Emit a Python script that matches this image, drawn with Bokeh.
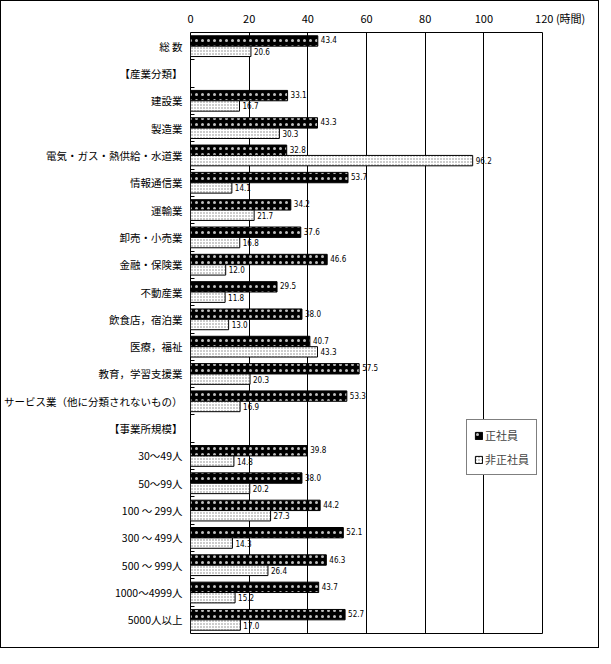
from bokeh.plotting import figure
from bokeh.layouts import column
from bokeh.models import ColumnDataSource, Range1d, FixedTicker, Legend, LegendItem
from bokeh.core.properties import value
from bokeh.embed import file_html
from bokeh.resources import INLINE

categories = ["総 数", "【産業分類】", "建設業", "製造業", "電気・ガス・熱供給・水道業",
              "情報通信業", "運輸業", "卸売・小売業", "金融・保険業", "不動産業",
              "飲食店，宿泊業", "医療，福祉", "教育，学習支援業",
              "サービス業（他に分類されないもの）", "【事業所規模】",
              "30～49人", "50～99人", "100 ～ 299人", "300 ～ 499人", "500 ～ 999人",
              "1000～4999人", "5000人以上"]
seishain = [43.4, None, 33.1, 43.3, 32.8, 53.7, 34.2, 37.6, 46.6, 29.5, 38.0, 40.7, 57.5, 53.3,
            None, 39.8, 38.0, 44.2, 52.1, 46.3, 43.7, 52.7]
hiseishain = [20.6, None, 16.7, 30.3, 96.2, 14.1, 21.7, 16.8, 12.0, 11.8, 13.0, 43.3, 20.3, 16.9,
              None, 14.8, 20.2, 27.3, 14.3, 26.4, 15.2, 17.0]
x_ticks = [0, 20, 40, 60, 80, 100, 120]
x_tick_labels = ["0", "20", "40", "60", "80", "100", "\u3000\u3000\u3000 120 (時間)"]
series_names = ["正社員", "非正社員"]

JP = "Noto Sans CJK JP"
NUM = "DejaVu Sans Condensed"

W, H = 597, 646
BL, BT, BR, BB = 186, 31, 56, 14
p = figure(width=W, height=H, output_backend="svg", toolbar_location=None,
           x_range=Range1d(0, 120), y_range=Range1d(len(categories) - 0.5, -0.5),
           x_axis_location="above",
           min_border_left=BL, min_border_top=BT, min_border_right=BR, min_border_bottom=BB)
p.outline_line_color = "black"
p.outline_line_alpha = 1
p.outline_line_width = 1

# x axis (top)
p.xaxis.ticker = FixedTicker(ticks=x_ticks)
p.xaxis.major_label_overrides = {t: l for t, l in zip(x_ticks, x_tick_labels)}
p.xaxis.axis_line_color = None
p.xaxis.major_tick_line_color = None
p.xaxis.major_tick_out = 0
p.xaxis.major_tick_in = 0
p.xaxis.minor_tick_line_color = None
p.xaxis.major_label_text_font = JP
p.xaxis.major_label_text_font_size = "11px"
p.xaxis.major_label_text_color = "black"
p.xaxis.major_label_standoff = 7

# y axis
rows = list(range(len(categories)))
bounds = [i + 0.5 for i in rows[:-1]]
p.yaxis.ticker = FixedTicker(ticks=rows, minor_ticks=bounds)
p.yaxis.major_label_overrides = {i: c for i, c in enumerate(categories)}
p.yaxis.axis_line_color = None
p.yaxis.major_tick_line_color = None
p.yaxis.major_tick_out = 0
p.yaxis.major_tick_in = 0
p.yaxis.minor_tick_in = 4
p.yaxis.minor_tick_out = 0
p.yaxis.minor_tick_line_color = "black"
p.yaxis.major_label_text_font = JP
p.yaxis.major_label_text_font_size = "10.5px"
p.yaxis.major_label_text_color = "black"
p.yaxis.major_label_standoff = 8

p.xgrid.grid_line_color = "black"
p.xgrid.grid_line_alpha = 1
p.ygrid.grid_line_color = None

idx_a = [i for i in rows if seishain[i] is not None]
idx_b = [i for i in rows if hiseishain[i] is not None]
bh = 0.38
src_a = ColumnDataSource(dict(y=[i - bh / 2 for i in idx_a], v=[seishain[i] for i in idx_a],
                              t=[f"{seishain[i]:.1f}" for i in idx_a]))
src_b = ColumnDataSource(dict(y=[i + bh / 2 for i in idx_b], v=[hiseishain[i] for i in idx_b],
                              t=[f"{hiseishain[i]:.1f}" for i in idx_b]))

ra = p.hbar(y="y", left=0, right="v", height=bh, source=src_a, fill_color="black",
            line_color="black", line_width=1, hatch_pattern="dot", hatch_color="white",
            hatch_scale=6, hatch_alpha=0.75)
rb = p.hbar(y="y", left=0, right="v", height=bh, source=src_b, fill_color="white",
            line_color="black", line_width=1, hatch_pattern="dot", hatch_color="black",
            hatch_scale=3, hatch_alpha=0.5)

p.text(x="v", y="y", text="t", source=src_a, x_offset=3, y_offset=-1, text_font=value(NUM),
       text_font_size="8px", text_baseline="middle", text_align="left", text_color="black")
p.text(x="v", y="y", text="t", source=src_b, x_offset=3, y_offset=0, text_font=value(NUM),
       text_font_size="8px", text_baseline="middle", text_align="left", text_color="black")

legend = Legend(items=[LegendItem(label=series_names[0], renderers=[ra]),
                       LegendItem(label=series_names[1], renderers=[rb])],
                location=(276, 158), border_line_color="black", border_line_width=1,
                label_text_font=JP, label_text_font_size="11px", glyph_width=9, glyph_height=9,
                padding=7, spacing=8, margin=0, label_standoff=2, background_fill_alpha=1)
p.add_layout(legend, "center")

# outer frame around the whole picture
root = column(p, styles={"border": "1.5px solid black", "padding": "0px"})

open("out.html", "w").write(file_html(root, INLINE))
